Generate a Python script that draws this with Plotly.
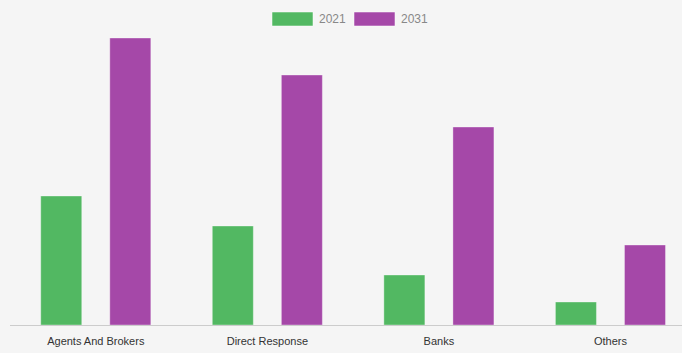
import plotly.graph_objects as go

categories = ["Agents And Brokers", "Direct Response", "Banks", "Others"]
series_names = ["2021", "2031"]
values_2021 = [129, 99, 50, 23]
values_2031 = [287, 250, 198, 80]
colors = ["#52b862", "#a548a8"]

W, H = 682, 353
ml, mr, mt, mb = 10, 0, 25, 28

fig = go.Figure()
for name, vals, col in zip(series_names, [values_2021, values_2031], colors):
    fig.add_trace(go.Bar(
        x=categories, y=vals, name=name,
        marker=dict(color=col, line=dict(color="rgba(255,255,255,0.35)", width=1)),
        showlegend=False,
    ))

# custom legend at top centre
pw = W - ml - mr
def px2paper(px):
    return (px - ml) / pw

legend_x = [272, 354]
for lx, name, col in zip(legend_x, series_names, colors):
    fig.add_shape(type="rect", xref="paper", yref="paper",
                  x0=px2paper(lx), x1=px2paper(lx + 41),
                  y0=1 + (mt - 12) / 300, y1=1 + (mt - 26) / 300,
                  fillcolor=col, line=dict(color="rgba(255,255,255,0.5)", width=1))
    fig.add_annotation(xref="paper", yref="paper", x=px2paper(lx + 45), y=1 + (mt - 19) / 300,
                       text=name, showarrow=False, xanchor="left", yanchor="middle",
                       font=dict(family="Liberation Sans, Arial", size=12, color="#888888"))

fig.update_layout(
    width=W, height=H,
    margin=dict(l=ml, r=mr, t=mt, b=mb),
    paper_bgcolor="#f5f5f5", plot_bgcolor="#f5f5f5",
    barmode="group", bargap=0.195, bargroupgap=0.406,
    xaxis=dict(range=[-0.5, 3.417], showgrid=False, showline=True, linecolor="#cccccc",
               linewidth=1, ticks="", ticklabelstandoff=6,
               tickfont=dict(family="Liberation Sans, Arial", size=11, color="#333333")),
    yaxis=dict(range=[0, 300], visible=False),
    font=dict(family="Liberation Sans, Arial"),
)

fig.write_html("out.html")
